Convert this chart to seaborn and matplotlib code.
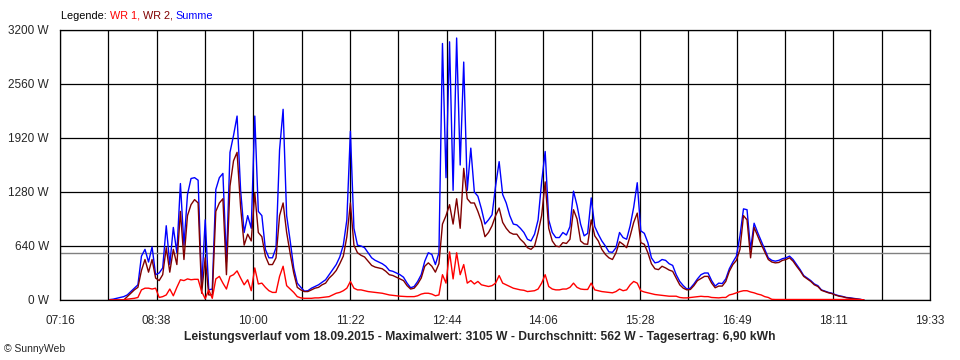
import numpy as np
import pandas as pd
import matplotlib
matplotlib.use("Agg")
import matplotlib.pyplot as plt
import seaborn as sns

# Messwerte (3-Minuten-Raster ab 07:58), in Watt
start_min = 478
schritt_min = 3

wr1 = [0, 0, 0, 0, 0, 10, 15, 20, 30, 120, 140, 140, 130, 140, 30, 40, 60, 130, 50, 150,
       240, 230, 250, 240, 245, 245, 100, 15, 120, 20, 250, 280, 200, 130, 280, 300, 345, 260, 180, 240,
       110, 380, 190, 200, 150, 110, 90, 90, 280, 400, 170, 130, 90, 40, 25, 20, 20, 20, 25, 25,
       30, 35, 40, 60, 80, 90, 110, 140, 220, 140, 120, 120, 110, 100, 95, 90, 85, 80, 70, 60,
       55, 50, 45, 42, 40, 40, 40, 50, 70, 80, 80, 70, 50, 60, 300, 200, 570, 250, 560, 300,
       420, 200, 230, 190, 220, 180, 170, 160, 170, 200, 290, 200, 180, 160, 140, 130, 120, 115, 100, 105,
       110, 130, 200, 300, 160, 130, 120, 120, 130, 130, 150, 200, 150, 130, 125, 125, 200, 120, 110, 100,
       95, 90, 85, 100, 130, 110, 120, 180, 220, 200, 110, 95, 85, 75, 65, 60, 55, 50, 45, 45,
       45, 30, 25, 25, 30, 35, 40, 44, 40, 40, 30, 28, 25, 30, 30, 60, 70, 85, 100, 110,
       110, 95, 85, 70, 60, 40, 30, 8, 6, 6, 6, 6, 6, 6, 6, 6, 6, 6, 6, 6,
       6, 6, 6, 6, 6, 6, 6, 6, 6, 6, 6, 6, 6, 0]

wr2 = [0, 0, 0, 0, 0, 40, 80, 120, 150, 350, 480, 330, 480, 260, 230, 300, 620, 330, 600, 420,
       1050, 480, 1000, 1130, 1190, 1150, 80, 500, 60, 60, 1050, 1150, 1200, 300, 1350, 1650, 1750, 1100, 650, 780,
       700, 1270, 800, 750, 520, 420, 420, 500, 1000, 1150, 800, 550, 320, 150, 120, 100, 100, 120, 140, 150,
       180, 200, 260, 300, 350, 430, 520, 750, 1150, 650, 560, 530, 510, 460, 410, 390, 380, 370, 340, 300,
       290, 270, 250, 230, 170, 130, 140, 190, 260, 400, 440, 400, 330, 430, 900, 1000, 1130, 900, 1200, 850,
       1560, 1200, 1150, 1150, 1050, 930, 750, 800, 880, 1000, 1090, 920, 850, 800, 780, 780, 720, 680, 620, 600,
       640, 800, 1000, 1400, 850, 700, 640, 630, 680, 670, 720, 1070, 960, 700, 665, 660, 950, 760, 700, 600,
       540, 500, 480, 560, 690, 660, 620, 760, 920, 1030, 680, 660, 560, 430, 370, 360, 400, 380, 355, 340,
       260, 180, 140, 120, 125, 170, 230, 255, 280, 280, 200, 145, 165, 165, 220, 340, 420, 470, 600, 1000,
       950, 500, 860, 760, 660, 570, 480, 450, 440, 445, 470, 480, 500, 460, 400, 345, 280, 250, 220, 180,
       160, 115, 100, 85, 75, 58, 45, 38, 27, 22, 16, 10, 5, 0]

summe = [5, 10, 20, 30, 40, 60, 100, 140, 180, 520, 600, 450, 630, 300, 320, 380, 880, 420, 860, 560,
         1380, 650, 1250, 1440, 1450, 1420, 150, 950, 120, 130, 1310, 1450, 1500, 450, 1750, 1950, 2180, 1300, 800, 1000,
         850, 2180, 1050, 1000, 600, 500, 500, 620, 1780, 2260, 1000, 700, 380, 200, 150, 105, 110, 140, 160, 180,
         210, 240, 300, 360, 420, 510, 650, 950, 2000, 850, 650, 640, 620, 560, 500, 470, 450, 430, 400, 350,
         340, 320, 300, 270, 200, 145, 160, 220, 300, 460, 560, 540, 420, 560, 3040, 1450, 3060, 1300, 3105, 1600,
         2820, 1300, 1800, 1280, 1230, 1080, 900, 950, 1010, 1350, 1640, 1250, 1150, 1000, 900, 890, 850, 800, 720, 700,
         780, 950, 1400, 1760, 950, 800, 740, 740, 800, 770, 870, 1290, 1120, 900, 760, 790, 1210, 870, 780, 700,
         640, 570, 565, 620, 800, 740, 720, 880, 1100, 1390, 820, 790, 680, 500, 440, 450, 480, 470, 430, 410,
         300, 220, 170, 130, 140, 190, 250, 300, 320, 320, 230, 165, 200, 195, 250, 370, 450, 520, 760, 1080,
         1070, 600, 910, 800, 700, 600, 500, 470, 460, 470, 490, 500, 520, 480, 420, 360, 290, 260, 230, 190,
         170, 120, 105, 90, 80, 62, 50, 42, 30, 26, 20, 14, 8, 0]

x_labels = ["07:16", "08:38", "10:00", "11:22", "12:44", "14:06", "15:28", "16:49", "18:11", "19:33"]
y_ticks = [0, 640, 1280, 1920, 2560, 3200]
durchschnitt = 562

titel = ("Leistungsverlauf vom 18.09.2015 - Maximalwert: 3105 W - Durchschnitt: 562 W"
         " - Tagesertrag: 6,90 kWh")

zeit = start_min + schritt_min * np.arange(len(summe))
df = pd.concat([
    pd.DataFrame({"zeit": zeit, "leistung": summe, "serie": "Summe"}),
    pd.DataFrame({"zeit": zeit, "leistung": wr2, "serie": "WR 2"}),
    pd.DataFrame({"zeit": zeit, "leistung": wr1, "serie": "WR 1"}),
])

sns.set_style("white")
plt.rcParams["font.family"] = ["Liberation Sans", "DejaVu Sans"]

fig = plt.figure(figsize=(9.6, 3.6), dpi=100)
ax = fig.add_axes([60 / 960, 60 / 360, 870 / 960, 270 / 360])

farben = {"WR 1": "#ff0000", "WR 2": "#800000", "Summe": "#0000ff"}
sns.lineplot(data=df, x="zeit", y="leistung", hue="serie", palette=farben,
             hue_order=["Summe", "WR 2", "WR 1"], estimator=None, legend=False,
             linewidth=1.0, ax=ax, zorder=3)

ax.axhline(durchschnitt, color="#808080", linewidth=1.0, zorder=2)

x0, x1 = 436, 1173
ax.set_xlim(x0, x1)
ax.set_ylim(0, 3200)
grid_x = np.linspace(x0, x1, 19)
ax.set_xticks(grid_x[::2])
ax.set_xticks(grid_x[1::2], minor=True)
ax.set_xticklabels(x_labels)
ax.set_yticks(y_ticks)
ax.set_yticklabels([f"{v} W" for v in y_ticks])
ax.grid(True, which="both", color="black", linewidth=0.9, zorder=1)
ax.tick_params(axis="both", which="both", direction="out", length=5, width=0.9,
               color="black", labelsize=8.5, pad=3)
ax.tick_params(axis="x", which="major", pad=6)
ax.set_xlabel("")
ax.set_ylabel("")
for s in ax.spines.values():
    s.set_color("black")
    s.set_linewidth(0.9)

# Legende oben als farbige Textstücke
fig.canvas.draw()
renderer = fig.canvas.get_renderer()
x_px = 61
for txt, col in [("Legende: ", "black"), ("WR 1, ", "#ff0000"),
                 ("WR 2, ", "#800000"), ("Summe", "#0000ff")]:
    t = fig.text(x_px / 960, 1 - 16 / 360, txt, color=col, fontsize=7.8,
                 va="center", ha="left")
    bb = t.get_window_extent(renderer)
    x_px += bb.width

fig.text(480 / 960, 1 - 337 / 360, titel, fontsize=8.7, fontweight="bold",
         ha="center", va="center")
fig.text(4 / 960, 1 - 349 / 360, "© SunnyWeb", fontsize=7.5, ha="left", va="center")

fig.savefig("out.png", dpi=100)
